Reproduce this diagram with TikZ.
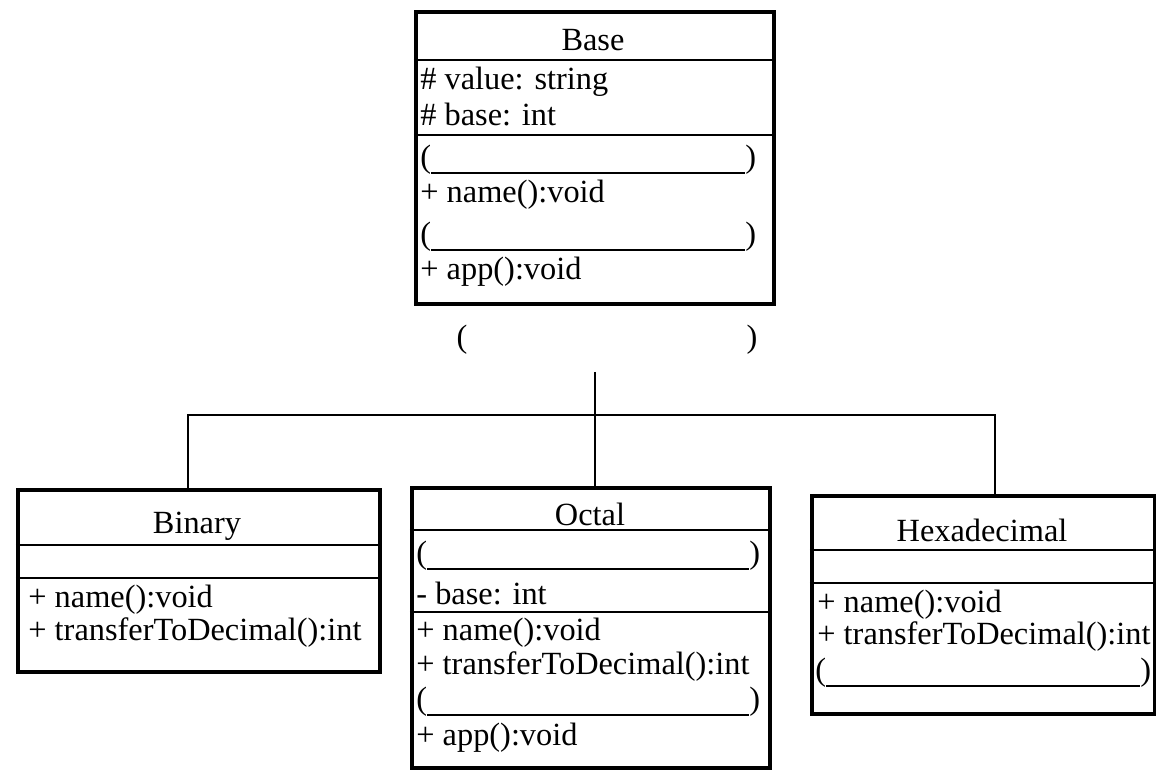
\documentclass[tikz,border=0pt]{standalone}
\usepackage{fontspec}
\setmainfont{Liberation Serif}
\usetikzlibrary{positioning}

% Lücke zum Ausfüllen: ( ____ )
\newcommand{\blank}[1]{(\rule[-0.19em]{#1}{0.45pt})}

\begin{document}
\begin{tikzpicture}[x=0.01cm, y=-0.01cm, thick,
    % Stil für die Klassen (Rahmen)
        classbox/.style={rectangle, draw=black, line width=1.15pt, anchor=north west, inner sep=0pt},
    % Stil für Trennlinien der Abschnitte
        sep/.style={draw=black, line width=0.55pt},
    % Stil für Klassennamen und Einträge
        title/.style={font=\fontsize{9.2pt}{11pt}\selectfont, inner sep=0pt},
        member/.style={font=\fontsize{9.2pt}{11pt}\selectfont, anchor=west, inner sep=0pt},
    % Stil für die Verbindungslinien
        link/.style={draw=black, line width=0.45pt}]

        \useasboundingbox (0,0) rectangle (1156,770);

        % Klasse Base
        \node[classbox, minimum width=3.58cm, minimum height=2.92cm] (base) at (414,10) {};
        \node[title] (basename) at (593,40) {Base};
        \draw[sep] (base.west |- 0,60) -- (base.east |- 0,60);
        \node[member] (bv) at (419,82) {\# value: string};
        \node[member] (bb) at (419,115) {\# base: int};
        \draw[sep] (base.west |- 0,135) -- (base.east |- 0,135);
        \node[member] (bk1) at (419,160) {\blank{3.14cm}};
        \node[member] (bn) at (419,195) {+ name():void};
        \node[member] (bk2) at (419,237) {\blank{3.14cm}};
        \node[member] (ba) at (419,272) {+ app():void};

        % Lücke für die Beziehung
        \node[title] (lp) at (462,340) {(};
        \node[title] (rp) at (752,340) {)};

        % Klasse Binary
        \node[classbox, minimum width=3.62cm, minimum height=1.82cm] (binary) at (16,488) {};
        \node[title] (binname) at (197,526) {Binary};
        \draw[sep] (binary.west |- 0,545) -- (binary.east |- 0,545);
        \draw[sep] (binary.west |- 0,578) -- (binary.east |- 0,578);
        \node[member] (in) at (27,600) {+ name():void};
        \node[member] (it) at (27,633) {+ transferToDecimal():int};

        % Klasse Octal
        \node[classbox, minimum width=3.58cm, minimum height=2.80cm] (octal) at (410,486) {};
        \node[title] (octname) at (590,514) {Octal};
        \draw[sep] (octal.west |- 0,530) -- (octal.east |- 0,530);
        \node[member] (ok1) at (415,556) {\blank{3.22cm}};
        \node[member] (ob) at (415,594) {- base: int};
        \draw[sep] (octal.west |- 0,612) -- (octal.east |- 0,612);
        \node[member] (on) at (415,633) {+ name():void};
        \node[member] (ot) at (415,667) {+ transferToDecimal():int};
        \node[member] (ok2) at (415,702) {\blank{3.22cm}};
        \node[member] (oa) at (415,738) {+ app():void};

        % Klasse Hexadecimal
        \node[classbox, minimum width=3.43cm, minimum height=2.18cm] (hex) at (810,494) {};
        \node[title] (hexname) at (982,530) {Hexadecimal};
        \draw[sep] (hex.west |- 0,550) -- (hex.east |- 0,550);
        \node[member] (hn) at (816,605) {+ name():void};
        \draw[sep] (hex.west |- 0,583) -- (hex.east |- 0,583);
        \node[member] (ht) at (816,637) {+ transferToDecimal():int};
        \node[member] (hk) at (814,673) {\blank{3.14cm}};

        % Verbindungen zwischen den Klassen
        \coordinate (stem) at (595,372);
        \coordinate (lft) at (188,415);
        \coordinate (rgt) at (995,415);
        \draw[link] (stem) -- (stem |- octal.north);
        \draw[link] (lft |- binary.north) -- (lft) -- (rgt) -- (rgt |- hex.north);
    \end{tikzpicture}
\end{document}
